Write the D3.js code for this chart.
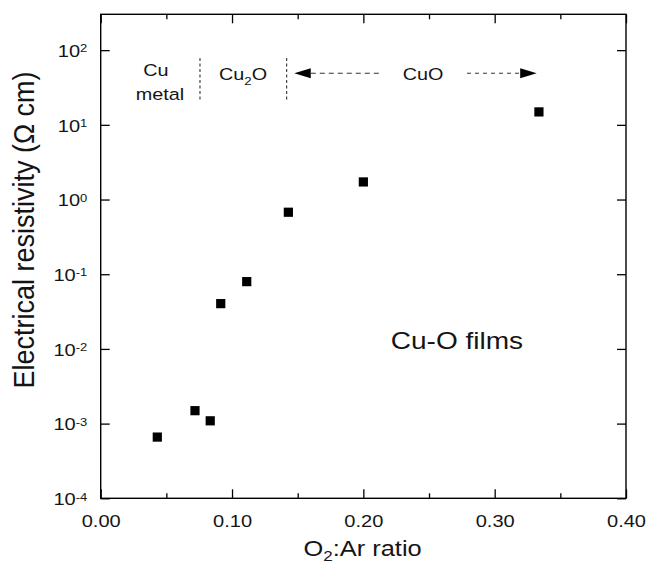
<!DOCTYPE html>
<html><head><meta charset="utf-8">
<script src="https://cdn.jsdelivr.net/npm/d3@7"></script>
<style>
body{margin:0;background:#fff}
svg{display:block}
text{font-family:"Liberation Sans",Arial,sans-serif;fill:#141414}
</style>
</head><body>
<svg id="c" width="649" height="577"></svg>
<script>
// ---- data ----
const o2ArRatio   = [0.0431, 0.0718, 0.0834, 0.0914, 0.1112, 0.1429, 0.200, 0.3337];
const resistivity = [6.6e-4, 1.49e-3, 1.09e-3, 0.0404, 0.0796, 0.676, 1.72, 14.9];
const xMajorTicks = [0, 0.1, 0.2, 0.3, 0.4];
const xMinorTicks = [0.05, 0.15, 0.25, 0.35];
const xTickLabels = ["0.00", "0.10", "0.20", "0.30", "0.40"];
const yTicks = [1e-4, 1e-3, 1e-2, 1e-1, 1, 10, 100];
const yTickExponents = ["-4", "-3", "-2", "-1", "0", "1", "2"];
const phaseBoundaries = [0.0756, 0.1416];      // Cu | Cu2O | CuO
const cuoArrowRange = [0.1474, 0.3320];        // CuO region arrow
const yTitle = "Electrical resistivity (\u03A9 cm)";
const filmLabel = "Cu-O films";

// ---- layout ----
const L = 100.7, R = 626, T = 14.3, B = 498.3;
const SX = 1.18;
const svg = d3.select("#c");
const x = d3.scaleLinear().domain([0, 0.4]).range([L, R]);
const y = d3.scaleLog().domain([1e-4, Math.pow(10, 2.48)]).range([B, T]);

function styleAxis(g) {
  g.select(".domain").remove();
  g.selectAll(".tick line").attr("stroke", "#000").attr("stroke-width", 1.3);
}

// bottom axis
svg.append("g").attr("transform", `translate(0,${B})`)
  .call(d3.axisBottom(x).tickValues(xMajorTicks).tickSize(-9).tickSizeOuter(0)
        .tickPadding(17).tickFormat((d, i) => xTickLabels[i]))
  .call(styleAxis)
  .call(g => g.selectAll("text").attr("font-size", 17).attr("fill", "#141414")
        .attr("font-family", "Liberation Sans, Arial, sans-serif")
        .attr("transform", `scale(${SX},1)`));
svg.append("g").attr("transform", `translate(0,${B})`)
  .call(d3.axisBottom(x).tickValues(xMinorTicks).tickSize(-5).tickSizeOuter(0).tickFormat(""))
  .call(styleAxis);
// top axis
svg.append("g").attr("transform", `translate(0,${T})`)
  .call(d3.axisTop(x).tickValues(xMajorTicks).tickSize(-9).tickSizeOuter(0).tickFormat(""))
  .call(styleAxis);
svg.append("g").attr("transform", `translate(0,${T})`)
  .call(d3.axisTop(x).tickValues(xMinorTicks).tickSize(-5).tickSizeOuter(0).tickFormat(""))
  .call(styleAxis);
// left / right axes
svg.append("g").attr("transform", `translate(${L},0)`)
  .call(d3.axisLeft(y).tickValues(yTicks).tickSize(-9).tickSizeOuter(0).tickFormat(""))
  .call(styleAxis);
svg.append("g").attr("transform", `translate(${R},0)`)
  .call(d3.axisRight(y).tickValues(yTicks).tickSize(-9).tickSizeOuter(0).tickFormat(""))
  .call(styleAxis);

// y tick labels with superscripts
yTicks.forEach((v, i) => {
  const t = svg.append("text")
    .attr("transform", `translate(87.3,${y(v) + 6.7}) scale(${SX},1)`)
    .attr("text-anchor", "end").attr("font-size", 17);
  t.append("tspan").text("10");
  t.append("tspan").attr("font-size", 11).attr("dy", -4.5).text(yTickExponents[i]);
});

// frame
svg.append("rect").attr("x", L).attr("y", T).attr("width", R - L).attr("height", B - T)
  .attr("fill", "none").attr("stroke", "#000").attr("stroke-width", 1.4);

// points
svg.append("g").selectAll("rect").data(o2ArRatio).join("rect")
  .attr("x", (d) => x(d) - 4.6)
  .attr("y", (d, i) => y(resistivity[i]) - 4.6)
  .attr("width", 9.2).attr("height", 9.2).attr("fill", "#000");

// axis titles
const xt = svg.append("text")
  .attr("transform", `translate(362.6,556) scale(1.13,1)`)
  .attr("text-anchor", "middle").attr("font-size", 22.5);
xt.append("tspan").text("O");
xt.append("tspan").attr("font-size", 15).attr("dy", 5).text("2");
xt.append("tspan").attr("dy", -5).text(":Ar ratio");

svg.append("text")
  .attr("transform", `translate(33.5,230) rotate(-90) scale(1,1.06)`)
  .attr("text-anchor", "middle").attr("font-size", 27).text(yTitle);

svg.append("text")
  .attr("transform", `translate(390.7,349.3) scale(1.22,1)`)
  .attr("font-size", 23).text(filmLabel);

// phase annotations
const annFs = 16.5;
svg.append("text").attr("transform", `translate(155.8,76) scale(1.2,1)`)
  .attr("text-anchor", "middle").attr("font-size", annFs).text("Cu");
svg.append("text").attr("transform", `translate(160,100) scale(1.2,1)`)
  .attr("text-anchor", "middle").attr("font-size", annFs).text("metal");
const c2 = svg.append("text").attr("transform", `translate(219,80) scale(1.2,1)`)
  .attr("font-size", annFs);
c2.append("tspan").text("Cu");
c2.append("tspan").attr("font-size", 11).attr("dy", 5).text("2");
c2.append("tspan").attr("dy", -5).text("O");
svg.append("text").attr("transform", `translate(402.7,80) scale(1.2,1)`)
  .attr("font-size", annFs).text("CuO");

phaseBoundaries.forEach(b => {
  svg.append("line").attr("x1", x(b)).attr("x2", x(b)).attr("y1", 58).attr("y2", 101)
    .attr("stroke", "#333").attr("stroke-width", 1.1).attr("stroke-dasharray", "3,2.5");
});

const ay = 73.3, aLen = 16.5, aHalf = 5;
const xa0 = x(cuoArrowRange[0]), xa1 = x(cuoArrowRange[1]);
svg.append("line").attr("x1", xa0 + aLen).attr("x2", 380).attr("y1", ay).attr("y2", ay)
  .attr("stroke", "#333").attr("stroke-width", 1.1).attr("stroke-dasharray", "5,4");
svg.append("line").attr("x1", 467).attr("x2", xa1 - aLen).attr("y1", ay).attr("y2", ay)
  .attr("stroke", "#333").attr("stroke-width", 1.1).attr("stroke-dasharray", "4,4");
svg.append("path").attr("d", `M${xa0},${ay} L${xa0 + aLen},${ay - aHalf} L${xa0 + aLen},${ay + aHalf} Z`)
  .attr("fill", "#000");
svg.append("path").attr("d", `M${xa1},${ay} L${xa1 - aLen},${ay - aHalf} L${xa1 - aLen},${ay + aHalf} Z`)
  .attr("fill", "#000");
</script>
</body></html>
